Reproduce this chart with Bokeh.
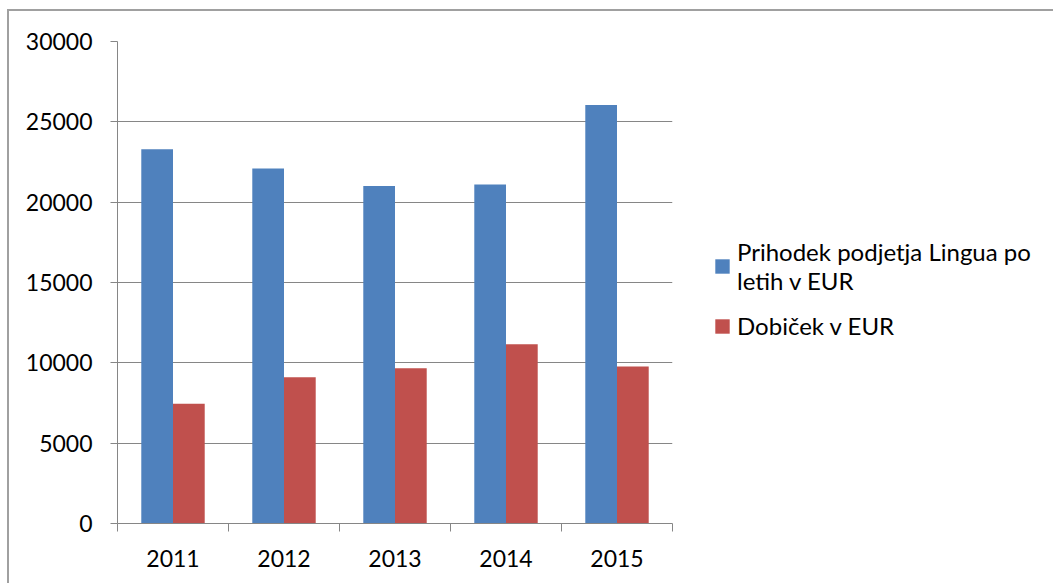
from bokeh.plotting import figure
from bokeh.models import ColumnDataSource, Range1d, FixedTicker, Legend, LegendItem
from bokeh.transform import dodge
from bokeh.embed import file_html
from bokeh.resources import INLINE

years = ["2011", "2012", "2013", "2014", "2015"]
prihodek = [23300, 22100, 21000, 21100, 26050]
dobicek = [7450, 9100, 9670, 11160, 9770]
series_names = ["Prihodek podjetja Lingua po\nletih v EUR", "Dobiček v EUR"]
y_ticks = [0, 5000, 10000, 15000, 20000, 25000, 30000]

FONT = "Lato"
FS = "23px"
LFS = "24px"
GRAY = "#868686"

n = len(years)
src = ColumnDataSource(dict(x=[i + 0.5 for i in range(n)], p=prihodek, d=dobicek))

p = figure(frame_width=555, frame_height=482, output_backend="svg", toolbar_location=None,
           x_range=Range1d(0, n), y_range=Range1d(0, 30000),
           min_border_left=108, min_border_top=30, min_border_bottom=60, min_border_right=381)
p.margin = (9, 0, 0, 7)
p.styles = {"border-left": "2px solid #a0a0a0", "border-top": "2px solid #a0a0a0"}
p.outline_line_color = None
p.background_fill_color = "white"
p.border_fill_color = "white"

bw = 1 / 3.5
r1 = p.vbar(x=dodge("x", -bw / 2, range=p.x_range), top="p", width=bw, source=src,
            fill_color="#4F81BD", line_color=None)
r2 = p.vbar(x=dodge("x", bw / 2, range=p.x_range), top="d", width=bw, source=src,
            fill_color="#C0504D", line_color=None)

# x axis
xa = p.xaxis[0]
xa.ticker = FixedTicker(ticks=[i + 0.5 for i in range(n)], minor_ticks=list(range(n + 1)))
xa.major_label_overrides = {i + 0.5: years[i] for i in range(n)}
xa.major_tick_out = 0
xa.major_tick_in = 0
xa.minor_tick_out = 8
xa.minor_tick_in = 0
xa.minor_tick_line_color = GRAY
xa.axis_line_color = GRAY
xa.major_label_standoff = 18
xa.major_label_text_font = FONT
xa.major_label_text_font_size = FS
xa.major_label_text_color = "black"

ya = p.yaxis[0]
ya.ticker = FixedTicker(ticks=y_ticks)
ya.major_tick_out = 7
ya.major_tick_in = 0
ya.minor_tick_line_color = None
ya.major_tick_line_color = GRAY
ya.axis_line_color = GRAY
ya.major_label_standoff = 18
ya.major_label_text_font = FONT
ya.major_label_text_font_size = FS
ya.major_label_text_color = "black"
ya.formatter.use_scientific = False

p.xgrid.grid_line_color = None
p.ygrid.grid_line_color = GRAY
p.ygrid.ticker = FixedTicker(ticks=y_ticks)

legend = Legend(items=[LegendItem(label=series_names[0], renderers=[r1]),
                       LegendItem(label=series_names[1], renderers=[r2])],
                location=(41, 183), border_line_color=None, background_fill_alpha=0,
                glyph_width=18, glyph_height=18, label_standoff=6, spacing=16,
                margin=0, padding=0,
                label_text_font=FONT, label_text_font_size=LFS, label_text_color="black",
                label_text_line_height=1.7)
p.add_layout(legend, "right")

open("out.html", "w").write(file_html(p, INLINE))
